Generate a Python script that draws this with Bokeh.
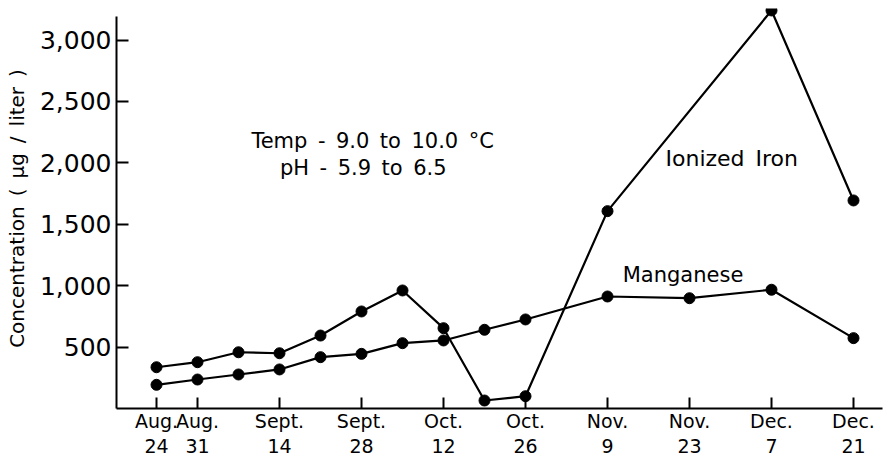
import pandas as pd
from bokeh.plotting import figure
from bokeh.models import FixedTicker, Range1d, Label
from bokeh.embed import file_html
from bokeh.resources import INLINE

# ---- data ----
start_date = "1960-08-24"
iron_dates = ["1960-08-24", "1960-08-31", "1960-09-07", "1960-09-14", "1960-09-21",
              "1960-09-28", "1960-10-05", "1960-10-12", "1960-10-19", "1960-10-26",
              "1960-11-09", "1960-12-07", "1960-12-21"]
iron_values = [336, 377, 458, 450, 594, 790, 961, 654, 65, 100, 1607, 3241, 1694]

mn_dates = ["1960-08-24", "1960-08-31", "1960-09-07", "1960-09-14", "1960-09-21",
            "1960-09-28", "1960-10-05", "1960-10-12", "1960-10-19", "1960-10-26",
            "1960-11-09", "1960-11-23", "1960-12-07", "1960-12-21"]
mn_values = [193, 236, 277, 318, 418, 445, 532, 554, 641, 725, 912, 898, 967, 573]

tick_dates = ["1960-08-24", "1960-08-31", "1960-09-14", "1960-09-28", "1960-10-12",
              "1960-10-26", "1960-11-09", "1960-11-23", "1960-12-07", "1960-12-21"]
tick_labels = ["Aug.\n24", "Aug.\n31", "Sept.\n14", "Sept.\n28", "Oct.\n12",
               "Oct.\n26", "Nov.\n9", "Nov.\n23", "Dec.\n7", "Dec.\n21"]

y_ticks = [500, 1000, 1500, 2000, 2500, 3000]
y_tick_labels = ["500", "1,000", "1,500", "2,000", "2,500", "3,000"]

def days(ds):
    t0 = pd.Timestamp(start_date)
    return [(pd.Timestamp(d) - t0).days for d in ds]

iron_x = days(iron_dates)
mn_x = days(mn_dates)
tick_x = days(tick_dates)

FONT = "DejaVu Sans"
SP = "\u2002"  # en space

p = figure(frame_width=766, frame_height=400, min_border_left=116, min_border_right=4,
           min_border_top=8, min_border_bottom=55,
           x_range=Range1d(-6.83, 123.95), y_range=Range1d(0, 3257),
           output_backend="svg", toolbar_location=None)
p.outline_line_color = None
p.grid.visible = False
p.background_fill_color = "white"

for xs, ys in ((iron_x, iron_values), (mn_x, mn_values)):
    p.line(xs, ys, line_color="black", line_width=2.2)
    p.scatter(xs, ys, size=11, fill_color="black", line_color="black")

# x axis
xa = p.xaxis[0]
xa.ticker = FixedTicker(ticks=tick_x, minor_ticks=[])
xa.major_label_overrides = {t: l for t, l in zip(tick_x, tick_labels)}
xa.major_tick_in = 11
xa.major_tick_out = 0
xa.minor_tick_line_color = None
xa.axis_line_width = 2
xa.major_tick_line_width = 2
xa.major_label_text_font = FONT
xa.major_label_text_font_size = "19px"
xa.major_label_text_line_height = 1.15
xa.major_label_text_color = "black"
xa.major_label_standoff = 1
xa.axis_line_color = "black"
xa.major_tick_line_color = "black"

# y axis
ya = p.yaxis[0]
ya.ticker = FixedTicker(ticks=y_ticks, minor_ticks=[])
ya.major_label_overrides = {t: l for t, l in zip(y_ticks, y_tick_labels)}
ya.bounds = (0, 3192)
ya.major_tick_in = 12
ya.major_tick_out = 0
ya.minor_tick_line_color = None
ya.axis_line_width = 2
ya.major_tick_line_width = 2
ya.major_label_text_font = FONT
ya.major_label_text_font_size = "25px"
ya.major_label_text_color = "black"
ya.major_label_standoff = 5
ya.axis_label = SP.join(["Concentration", "(", "µg", "/", "liter", ")"])
ya.axis_label_text_font = FONT
ya.axis_label_text_font_size = "20px"
ya.axis_label_text_font_style = "normal"
ya.axis_label_text_color = "black"
ya.axis_label_standoff = 8
ya.axis_line_color = "black"
ya.major_tick_line_color = "black"

def label(x, y, text, align="left", size="21px"):
    p.add_layout(Label(x=x, y=y, text=text, text_font=FONT, text_font_size=size,
                       text_color="black", text_align=align, text_baseline="middle"))

label(36.9, 2182, SP.join(["Temp", "-", "9.0", "to", "10.0", "°C"]), "center")
label(35.3, 1962, SP.join(["pH", "-", "5.9", "to", "6.5"]), "center")
label(86.9, 2036, SP.join(["Ionized", "Iron"]), size="22px")
label(79.6, 1083, "Manganese")

open("out.html", "w").write(file_html(p, INLINE))
